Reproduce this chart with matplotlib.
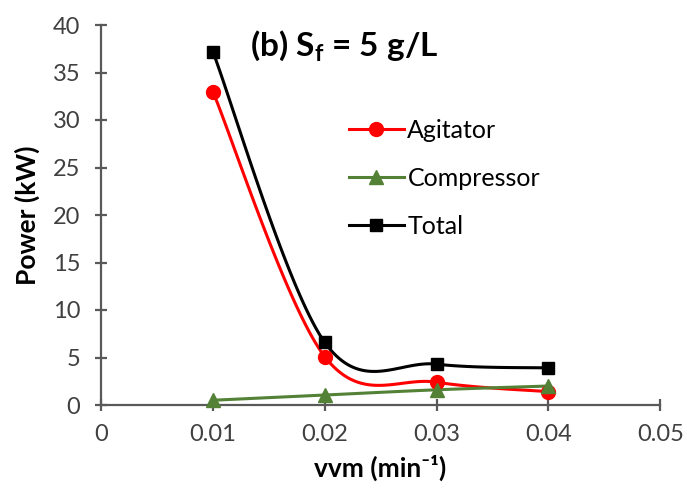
import matplotlib
matplotlib.use('Agg')
import matplotlib.pyplot as plt
import numpy as np

vvm = [0.01, 0.02, 0.03, 0.04]
agitator = [33.0, 5.1, 2.4, 1.4]
compressor = [0.5, 1.05, 1.6, 2.0]
total = [37.2, 6.6, 4.3, 3.9]

plt.rcParams['font.family'] = ['Lato', 'DejaVu Sans']
plt.rcParams['mathtext.fontset'] = 'custom'
plt.rcParams['mathtext.rm'] = 'Lato'
plt.rcParams['mathtext.bf'] = 'Lato:bold'


def smooth(x, y, n=40):
    # Catmull-Rom style bezier like Excel's smoothed line
    x = np.asarray(x, float)
    y = np.asarray(y, float)
    px = np.concatenate([[x[0]], x, [x[-1]]])
    py = np.concatenate([[y[0]], y, [y[-1]]])
    xs, ys = [], []
    t = np.linspace(0, 1, n)
    for i in range(1, len(px) - 2):
        p0 = np.array([px[i], py[i]])
        p3 = np.array([px[i + 1], py[i + 1]])
        c1 = p0 + (np.array([px[i + 1], py[i + 1]]) - np.array([px[i - 1], py[i - 1]])) / 6
        c2 = p3 - (np.array([px[i + 2], py[i + 2]]) - np.array([px[i], py[i]])) / 6
        b = ((1 - t) ** 3)[:, None] * p0 + (3 * (1 - t) ** 2 * t)[:, None] * c1 \
            + (3 * (1 - t) * t ** 2)[:, None] * c2 + (t ** 3)[:, None] * p3
        xs.extend(b[:, 0])
        ys.extend(b[:, 1])
    return xs, ys


fig = plt.figure(figsize=(6.87, 5.0), dpi=100)
ax = fig.add_axes([0.147, 0.19, 0.814, 0.76])

series = [
    (agitator, 'Agitator', '#ff0000', 'o', 10),
    (compressor, 'Compressor', '#538135', '^', 10),
    (total, 'Total', '#000000', 's', 9),
]
for vals, name, col, mk, ms in series:
    sx, sy = smooth(vvm, vals)
    ax.plot(sx, sy, color=col, lw=2.2, zorder=2)
    ax.plot(vvm, vals, ls='none', marker=mk, color=col, ms=ms, zorder=3, clip_on=False)
    ax.plot([], [], color=col, lw=2.2, marker=mk, ms=ms, label=name)

ax.set_xlim(0, 0.05)
ax.set_ylim(0, 40)
ax.set_xticks(np.arange(0, 0.051, 0.01))
ax.set_xticklabels(['0', '0.01', '0.02', '0.03', '0.04', '0.05'])
ax.set_yticks(range(0, 41, 5))

for s in ['top', 'right']:
    ax.spines[s].set_visible(False)
for s in ['left', 'bottom']:
    ax.spines[s].set_color('#595959')
    ax.spines[s].set_linewidth(1.6)
ax.tick_params(direction='inout', length=8, width=1.6, color='#595959',
               labelsize=17, labelcolor='#404040')
ax.tick_params(axis='y', pad=11)
ax.tick_params(axis='x', pad=10)

ax.set_ylabel('Power (kW)', fontsize=19, fontweight='bold', labelpad=9)
ax.set_xlabel('vvm (min⁻¹)', fontsize=19, fontweight='bold', labelpad=7)

ax.text(0.435, 0.945, r'(b) S$_{\bf f}$ = 5 g/L', transform=ax.transAxes,
        fontsize=24, fontweight='bold', ha='center', va='center')

ax.legend(loc='upper left', bbox_to_anchor=(0.425, 0.78), frameon=False,
          fontsize=18, handlelength=2.2, labelspacing=1.0, handletextpad=0.15,
          borderaxespad=0)

fig.savefig('out.png', dpi=100)
